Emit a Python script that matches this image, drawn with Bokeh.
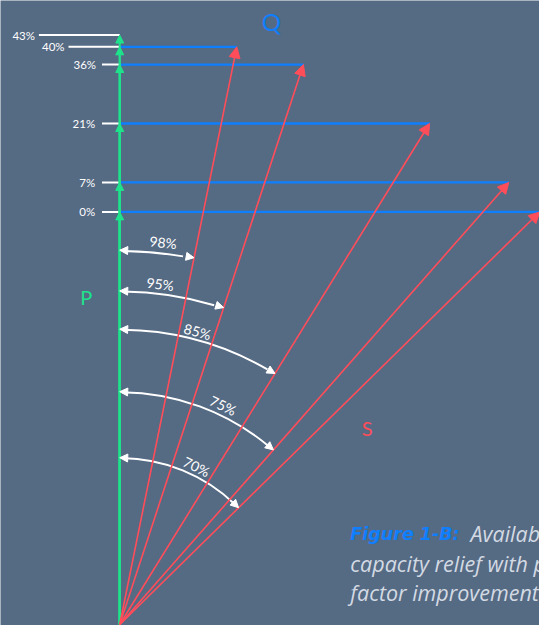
import numpy as np
from bokeh.plotting import figure
from bokeh.models import Range1d, Arrow, NormalHead, ColumnDataSource
from bokeh.core.properties import value
from bokeh.embed import file_html
from bokeh.resources import INLINE

# ---- data ----
pf_levels = [1.00, 0.98, 0.95, 0.85, 0.75, 0.70]          # power factors
relief_labels = ["43%", "40%", "36%", "21%", "7%", "0%"]  # capacity relief
pf_labels = ["98%", "95%", "85%", "75%", "70%"]
S_mag = 100.0                                             # apparent power (constant)

# ---- layout (reference frame 547 x 633 mapped onto the canvas) ----
W, H = 539, 625
RW, RH = 547, 633
K = 5.97                 # reference px per unit
OX, OY = 121, 632        # origin in reference px
def dx(px): return (px - OX) / K
def dy(py): return (OY - py) / K

BG = "#556a83"
GREEN = "#1fe38c"
RED = "#ff4d5a"
BLUE = "#0f7fff"
WHITE = "#ffffff"
FONT = value("Lato")
CAP_FONT = value("Open Sans")

pf = np.array(pf_levels)
P = S_mag * pf
Q = S_mag * np.sqrt(1 - pf ** 2)

p = figure(width=W, height=H, output_backend="svg", toolbar_location=None,
           x_range=Range1d(dx(0), dx(RW)), y_range=Range1d(dy(RH), dy(0)),
           min_border=0, outline_line_color=None)
p.axis.visible = False
p.grid.visible = False
p.background_fill_color = BG
p.border_fill_color = BG

# blue Q lines
p.segment(x0=0, y0=P[1:], x1=Q[1:], y1=P[1:], line_color=BLUE, line_width=2.3)

# white ticks to the left
tick_px = [39, 69, 103, 103, 103, 103]
lab_px = [35, 65, 97, 96, 96, 96]
p.segment(x0=[dx(t) for t in tick_px], y0=P, x1=0, y1=P, line_color=WHITE, line_width=2)
p.text(x=[dx(t) for t in lab_px], y=P, text=relief_labels, text_color=WHITE,
       text_font=FONT, text_font_size="11.5px", text_align="right", text_baseline="middle")

# green P arrows
gsrc = ColumnDataSource(dict(xs=[0] * len(P), ys=[0] * len(P), xe=[0] * len(P), ye=list(P)))
p.add_layout(Arrow(end=NormalHead(size=8, fill_color=GREEN, line_color=GREEN),
                   x_start="xs", y_start="ys", x_end="xe", y_end="ye", source=gsrc,
                   line_color=GREEN, line_width=2))

# red S arrows
rsrc = ColumnDataSource(dict(xs=[0] * 5, ys=[0] * 5, xe=list(Q[1:]), ye=list(P[1:])))
p.add_layout(Arrow(end=NormalHead(size=11, fill_color=RED, line_color=RED),
                   x_start="xs", y_start="ys", x_end="xe", y_end="ye", source=rsrc,
                   line_color=RED, line_width=1.6))

# arcs with double arrows
arc_r = [63.5, 56.6, 50.1, 39.5, 28.3]
theta = np.arccos(pf[1:])
d = 0.06
p.arc(x=0, y=0, radius=arc_r, start_angle=list(np.pi / 2 - theta + d * 0.5),
      end_angle=np.pi / 2 - 0.01, direction="anticlock", line_color=WHITE, line_width=2)
r = np.array(arc_r)
xs1 = r * np.sin(0.02 + d); ys1 = r * np.cos(0.02 + d)
xe1 = np.zeros(5); ye1 = r.copy()
xs2 = r * np.sin(theta - d); ys2 = r * np.cos(theta - d)
xe2 = r * np.sin(theta); ye2 = r * np.cos(theta)
asrc = ColumnDataSource(dict(xs=list(xs1) + list(xs2), ys=list(ys1) + list(ys2),
                             xe=list(xe1) + list(xe2), ye=list(ye1) + list(ye2)))
p.add_layout(Arrow(end=NormalHead(size=8, fill_color=WHITE, line_color=WHITE),
                   x_start="xs", y_start="ys", x_end="xe", y_end="ye", source=asrc,
                   line_alpha=0))

# arc labels
lab_theta = np.radians([6.5, 6.8, 14.9, 25.3, 26.0])
lab_d = r + np.array([10.5, 9.4, 8.0, 9.6, 9.0]) / K
p.text(x=list(lab_d * np.sin(lab_theta)), y=list(lab_d * np.cos(lab_theta)), text=pf_labels,
       angle=list(-lab_theta), text_color=WHITE, text_font=FONT, text_font_size="14px",
       text_align="center", text_baseline="middle")

# P, Q, S letters
p.text(x=[dx(275)], y=[dy(21)], text=["Q"], text_color=BLUE, text_font=FONT,
       text_font_size="24px", text_align="center", text_baseline="middle")
p.text(x=[dx(87)], y=[dy(300)], text=["P"], text_color=GREEN, text_font=FONT,
       text_font_size="20px", text_align="center", text_baseline="middle")
p.text(x=[dx(372)], y=[dy(433)], text=["S"], text_color=RED, text_font=FONT,
       text_font_size="20px", text_align="center", text_baseline="middle")

# caption (cut off at the right edge, as in the reference)
p.text(x=[dx(355)], y=[dy(540)], text=["Figure 1-B:"], text_color=BLUE,
       text_font=value("DejaVu Sans"), text_font_style="bold italic",
       text_font_size="17.5px", text_baseline="middle")
p.text(x=[dx(477), dx(355), dx(355)], y=[dy(540), dy(570), dy(600)],
       text=["Available", "capacity relief with power", "factor improvement"],
       text_color="#d3dae3", text_font=CAP_FONT, text_font_style="italic",
       text_font_size="21.5px", text_baseline="middle")

open("out.html", "w").write(file_html(p, INLINE))
